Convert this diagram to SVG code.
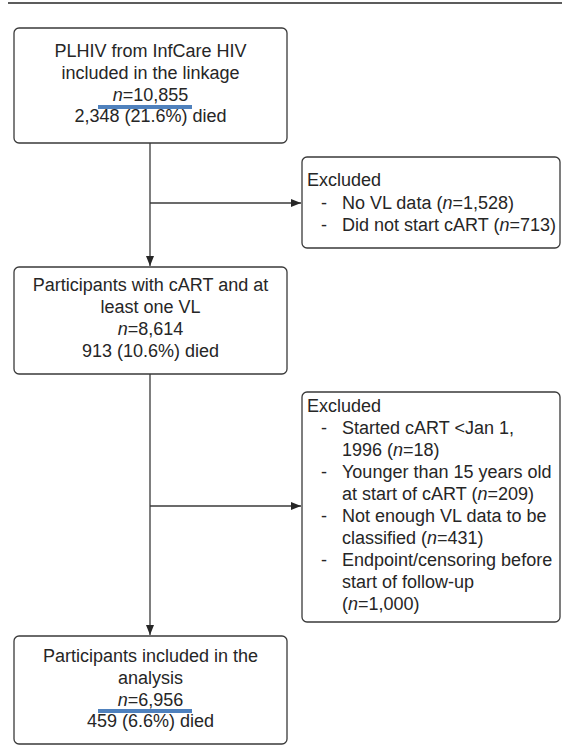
<svg xmlns="http://www.w3.org/2000/svg" width="562" height="746" viewBox="0 0 562 746">
<style>
  .box { fill: #ffffff; stroke: #3a3a3a; stroke-width: 1.3; }
  .t { font-family: "Liberation Sans", Arial, sans-serif; font-size: 18px; fill: #262626; }
  .c { text-anchor: middle; }
  .i { font-style: italic; }
  .conn { fill: none; stroke: #3a3a3a; stroke-width: 1.3; }
  .hl { fill: #4f81bd; }
</style>
<defs>
  <marker id="arr" viewBox="0 0 10 8" refX="10" refY="4" markerWidth="10" markerHeight="8" markerUnits="userSpaceOnUse" orient="auto">
    <path d="M0,0 L10,4 L0,8 Z" fill="#262626"/>
  </marker>
</defs>
<rect width="562" height="746" fill="#ffffff"/>
<line x1="8" y1="3" x2="562" y2="3" stroke="#262626" stroke-width="1.5"/>

<g id="connectors">
  <line class="conn" x1="150" y1="143" x2="150" y2="266" marker-end="url(#arr)"/>
  <line class="conn" x1="150" y1="203" x2="301" y2="203" marker-end="url(#arr)"/>
  <line class="conn" x1="150" y1="374" x2="150" y2="635" marker-end="url(#arr)"/>
  <line class="conn" x1="150" y1="506" x2="301" y2="506" marker-end="url(#arr)"/>
</g>

<g id="node-plhiv">
  <rect class="box" x="14" y="28" width="273" height="115" rx="5"/>
  <text class="t c" x="150.5" y="57">PLHIV from InfCare HIV</text>
  <text class="t c" x="150.5" y="79">included in the linkage</text>
  <text class="t c" x="150.5" y="101"><tspan class="i">n</tspan>=10,855</text>
  <rect class="hl" x="98" y="105" width="94" height="4"/>
  <text class="t c" x="150.5" y="122">2,348 (21.6%) died</text>
</g>

<g id="node-excluded1">
  <rect class="box" x="302" y="157" width="258" height="91" rx="5"/>
  <text class="t" x="307" y="186">Excluded</text>
  <text class="t" x="321" y="209">-</text>
  <text class="t" x="342" y="209">No VL data (<tspan class="i">n</tspan>=1,528)</text>
  <text class="t" x="321" y="231">-</text>
  <text class="t" x="342" y="231">Did not start cART (<tspan class="i">n</tspan>=713)</text>
</g>

<g id="node-cart">
  <rect class="box" x="14" y="267" width="273" height="107" rx="5"/>
  <text class="t c" x="150.5" y="291">Participants with cART and at</text>
  <text class="t c" x="150.5" y="313">least one VL</text>
  <text class="t c" x="150.5" y="335"><tspan class="i">n</tspan>=8,614</text>
  <text class="t c" x="150.5" y="357">913 (10.6%) died</text>
</g>

<g id="node-excluded2">
  <rect class="box" x="302" y="392" width="258" height="230" rx="5"/>
  <text class="t" x="307" y="412">Excluded</text>
  <text class="t" x="321" y="434">-</text>
  <text class="t" x="342" y="434">Started cART &lt;Jan 1,</text>
  <text class="t" x="342" y="456">1996 (<tspan class="i">n</tspan>=18)</text>
  <text class="t" x="321" y="478">-</text>
  <text class="t" x="342" y="478">Younger than 15 years old</text>
  <text class="t" x="342" y="500">at start of cART (<tspan class="i">n</tspan>=209)</text>
  <text class="t" x="321" y="522">-</text>
  <text class="t" x="342" y="522">Not enough VL data to be</text>
  <text class="t" x="342" y="544">classified (<tspan class="i">n</tspan>=431)</text>
  <text class="t" x="321" y="566">-</text>
  <text class="t" x="342" y="566">Endpoint/censoring before</text>
  <text class="t" x="342" y="588">start of follow-up</text>
  <text class="t" x="342" y="610">(<tspan class="i">n</tspan>=1,000)</text>
</g>

<g id="node-analysis">
  <rect class="box" x="14" y="636" width="273" height="108" rx="5"/>
  <text class="t c" x="150.5" y="662">Participants included in the</text>
  <text class="t c" x="150.5" y="684">analysis</text>
  <text class="t c" x="150.5" y="706"><tspan class="i">n</tspan>=6,956</text>
  <rect class="hl" x="98" y="709" width="94" height="4"/>
  <text class="t c" x="150.5" y="727">459 (6.6%) died</text>
</g>
</svg>
